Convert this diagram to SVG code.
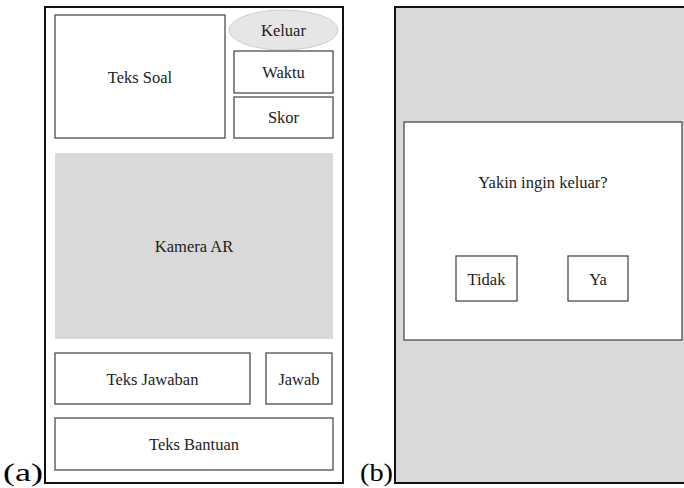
<svg xmlns="http://www.w3.org/2000/svg" width="684" height="488" viewBox="0 0 684 488">
  <style>
    .frame { fill: #ffffff; stroke: #111111; stroke-width: 2; }
    .box { fill: #ffffff; stroke: #4d4d4d; stroke-width: 1.3; }
    .shade { fill: #d9d9d9; }
    .pill { fill: #e6e6e6; stroke: #cfcfcf; stroke-width: 1; }
    .lbl { font-size: 16.5px; fill: #222222; text-anchor: middle; }
    .cap { font-size: 25px; fill: #000000; }
  </style>

  <!-- (a) main quiz screen -->
  <g id="screen-a">
    <rect class="frame" x="45" y="7" width="298" height="476"/>
  </g>
  <g font-family="Liberation Serif, serif">
  <g id="teks-soal">
    <rect class="box" x="55" y="15" width="170" height="123"/>
    <text class="lbl" x="140" y="83">Teks Soal</text>
  </g>
  <g id="keluar">
    <ellipse class="pill" cx="283.5" cy="30" rx="54.5" ry="20"/>
    <text class="lbl" x="283.5" y="36">Keluar</text>
  </g>
  <g id="waktu">
    <rect class="box" x="234" y="51" width="99" height="42"/>
    <text class="lbl" x="283.5" y="78">Waktu</text>
  </g>
  <g id="skor">
    <rect class="box" x="234" y="97" width="99" height="41"/>
    <text class="lbl" x="283.5" y="123">Skor</text>
  </g>
  <g id="kamera-ar">
    <rect class="shade" x="55" y="153" width="278" height="186"/>
    <text class="lbl" x="194" y="252">Kamera AR</text>
  </g>
  <g id="teks-jawaban">
    <rect class="box" x="55" y="353" width="195" height="51"/>
    <text class="lbl" x="152.5" y="385">Teks Jawaban</text>
  </g>
  <g id="jawab">
    <rect class="box" x="266" y="353" width="66" height="51"/>
    <text class="lbl" x="299" y="385">Jawab</text>
  </g>
  <g id="teks-bantuan">
    <rect class="box" x="55" y="418" width="278" height="52"/>
    <text class="lbl" x="194" y="450">Teks Bantuan</text>
  </g>

  <!-- (b) exit confirmation screen -->
  <g id="screen-b">
    <rect class="frame" x="395" y="7" width="300" height="476" style="fill:#d9d9d9"/>
  </g>
  <g id="dialog">
    <rect class="box" x="404" y="122" width="278" height="218"/>
    <text class="lbl" x="543" y="188">Yakin ingin keluar?</text>
  </g>
  <g id="tidak">
    <rect class="box" x="456" y="256" width="61" height="45"/>
    <text class="lbl" x="486.5" y="285">Tidak</text>
  </g>
  <g id="ya">
    <rect class="box" x="568" y="256" width="60" height="45"/>
    <text class="lbl" x="598" y="285">Ya</text>
  </g>

  <!-- panel captions -->
  <text class="cap" x="3" y="481" textLength="40" lengthAdjust="spacingAndGlyphs">(a)</text>
  <text class="cap" x="360" y="481" textLength="33" lengthAdjust="spacingAndGlyphs">(b)</text>
  </g>

  <g id="connectors"/>
</svg>
